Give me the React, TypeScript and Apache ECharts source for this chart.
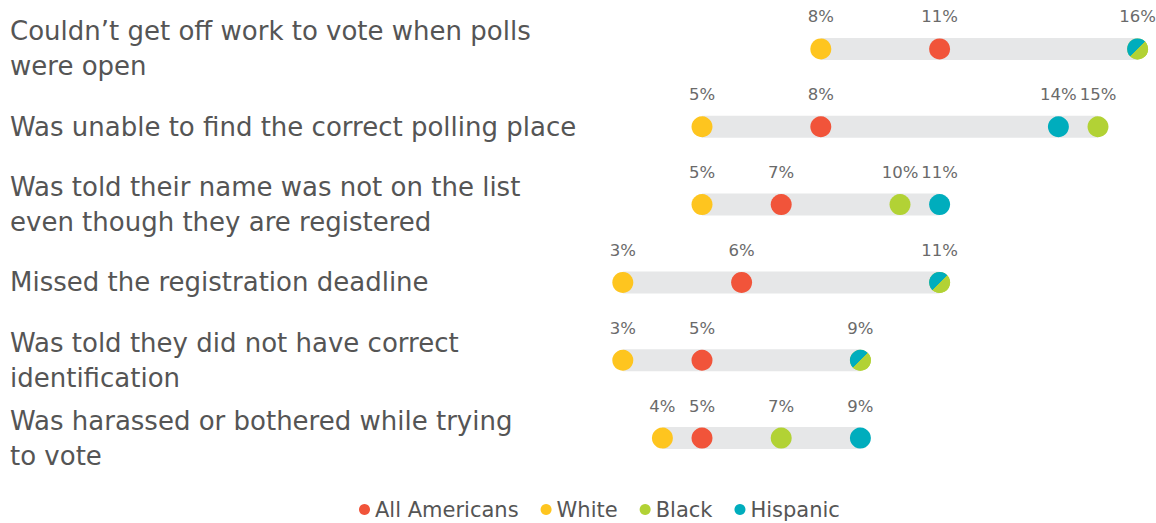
import React, { useEffect, useRef } from "react";
import * as echarts from "echarts";

const categories = [
  "Couldn’t get off work to vote when polls\nwere open",
  "Was unable to find the correct polling place",
  "Was told their name was not on the list\neven though they are registered",
  "Missed the registration deadline",
  "Was told they did not have correct\nidentification",
  "Was harassed or bothered while trying\nto vote",
];
const allAmericans = [11, 8, 7, 6, 5, 5];
const white = [8, 5, 5, 3, 3, 4];
const black = [16, 15, 10, 11, 9, 7];
const hispanic = [16, 14, 11, 11, 9, 9];

const C_ALL = "#f1543a";
const C_WHITE = "#fec51f";
const C_BLACK = "#b2d235";
const C_HISP = "#00adbd";
const FONT = "'DejaVu Sans', sans-serif";

export default function App() {
  const ref = useRef<HTMLDivElement>(null);
  useEffect(() => {
    document.body.style.margin = "0";
    const chart = echarts.init(ref.current!, null, { renderer: "svg" });
    const mins = categories.map((_, i) => Math.min(allAmericans[i], white[i], black[i], hispanic[i]));
    const maxs = categories.map((_, i) => Math.max(allAmericans[i], white[i], black[i], hispanic[i]));
    const label = {
      show: true,
      position: "top",
      distance: 13,
      formatter: (p: any) => p.value[0] + "%",
      color: "#6a6a6a",
      fontSize: 16.5,
      fontFamily: FONT,
    };
    const mk = (vals: number[]) => vals.map((v, i) => [v, categories[i]]);
    const split = new echarts.graphic.LinearGradient(0, 0, 1, 1, [
      { offset: 0, color: C_HISP },
      { offset: 0.5, color: C_HISP },
      { offset: 0.5, color: C_BLACK },
      { offset: 1, color: C_BLACK },
    ]);
    const hispData = hispanic.map((v, i) =>
      v === black[i]
        ? { value: [v, categories[i]], itemStyle: { color: split }, label: { show: false } }
        : { value: [v, categories[i]] }
    );
    chart.setOption({
      animation: false,
      grid: { left: 504, width: 633.6, top: 10, bottom: 46 },
      xAxis: { type: "value", min: 0, max: 16, show: false },
      yAxis: {
        type: "category",
        inverse: true,
        data: categories,
        axisLine: { show: false },
        axisTick: { show: false },
        splitLine: { show: false },
        axisLabel: {
          align: "left",
          margin: 494,
          color: "#555",
          fontSize: 26,
          lineHeight: 35,
          fontFamily: FONT,
        },
      },
      legend: {
        top: 494,
        left: 354,
        icon: "circle",
        itemWidth: 11,
        itemHeight: 11,
        itemGap: 22,
        textStyle: { color: "#555", fontSize: 21, fontFamily: FONT },
        data: ["All Americans", "White", "Black", "Hispanic"],
      },
      series: [
        {
          type: "bar",
          stack: "r",
          data: mins,
          itemStyle: { color: "transparent" },
          barWidth: 22,
          silent: true,
        },
        {
          type: "bar",
          stack: "r",
          data: maxs.map((m, i) => m - mins[i]),
          itemStyle: { color: "#e6e7e8" },
          barWidth: 22,
          silent: true,
        },
        { name: "All Americans", type: "scatter", symbolSize: 21, data: mk(allAmericans), itemStyle: { color: C_ALL, opacity: 1 }, label },
        { name: "White", type: "scatter", symbolSize: 21, data: mk(white), itemStyle: { color: C_WHITE, opacity: 1 }, label },
        { name: "Black", type: "scatter", symbolSize: 21, data: mk(black), itemStyle: { color: C_BLACK, opacity: 1 }, label },
        { name: "Hispanic", type: "scatter", symbolSize: 21, data: hispData, itemStyle: { color: C_HISP, opacity: 1 }, label },
      ],
    });
    return () => chart.dispose();
  }, []);
  return <div ref={ref} style={{ width: 1156, height: 523 }} />;
}
